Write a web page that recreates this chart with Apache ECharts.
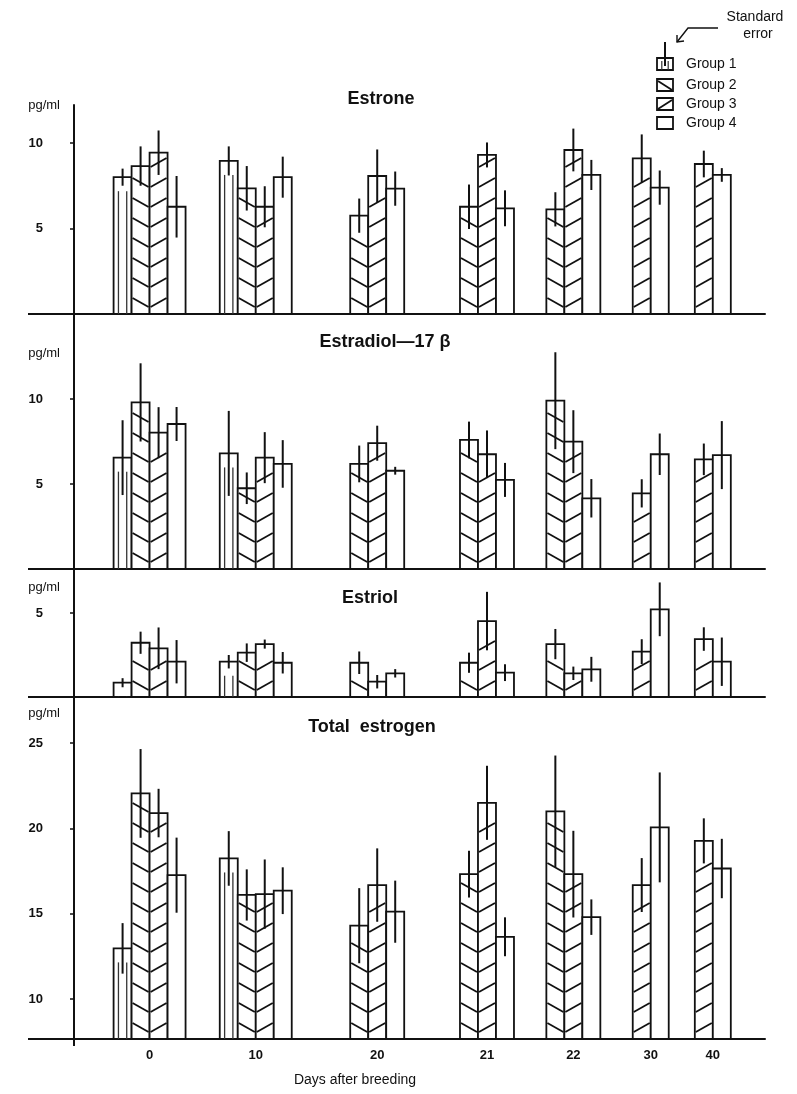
<!DOCTYPE html>
<html>
<head>
<meta charset="utf-8">
<script src="https://cdn.jsdelivr.net/npm/echarts@6/dist/echarts.min.js"></script>
<style>
  html, body { margin: 0; padding: 0; background: #fff; }
  #chart { width: 797px; height: 1094px; }
</style>
</head>
<body>
<div id="chart"></div>
<script>
// Sampling days and where each day's cluster sits on the x axis (in bar widths)
const days = ['0', '10', '20', '21', '22', '30', '40'];
const dayPos = [4.2, 10.1, 16.85, 22.95, 27.75, 32.05, 35.5];
const groups = ['Group 1', 'Group 2', 'Group 3', 'Group 4'];

// Mean concentrations (pg/ml): one row per group, one entry per day; null = not sampled
const estroneMean = [
  [8.0, 8.95, null, null, null, null, null],
  [8.65, 7.35, 5.75, 6.27, 6.12, null, null],
  [9.43, 6.27, 8.07, 9.3, 9.59, 9.1, 8.77],
  [6.27, 8.0, 7.33, 6.18, 8.13, 7.39, 8.13]
];
const estroneSE = [
  [0.5, 0.85, null, null, null, null, null],
  [1.15, 1.3, 1.0, 1.3, 1.0, null, null],
  [1.3, 1.2, 1.55, 0.73, 1.25, 1.4, 0.78],
  [1.8, 1.2, 1.0, 1.05, 0.88, 1.0, 0.4]
];

const estradiolMean = [
  [6.55, 6.8, null, null, null, null, null],
  [9.8, 4.75, 6.18, 7.59, 9.9, null, null],
  [8.02, 6.55, 7.4, 6.75, 7.49, 4.45, 6.45],
  [8.53, 6.18, 5.78, 5.24, 4.16, 6.75, 6.7]
];
const estradiolSE = [
  [2.2, 2.5, null, null, null, null, null],
  [2.3, 0.93, 1.08, 1.08, 2.85, null, null],
  [1.5, 1.5, 1.03, 1.4, 1.85, 0.83, 0.93],
  [1.0, 1.4, 0.23, 1.0, 1.13, 1.22, 2.0]
];

const estriolMean = [
  [0.85, 2.1, null, null, null, null, null],
  [3.23, 2.64, 2.04, 2.04, 3.15, null, null],
  [2.9, 3.15, 0.91, 4.52, 1.41, 2.7, 3.45],
  [2.1, 2.04, 1.41, 1.45, 1.65, 5.22, 2.1]
];
const estriolSE = [
  [0.27, 0.4, null, null, null, null, null],
  [0.66, 0.55, 0.67, 0.6, 0.9, null, null],
  [1.24, 0.27, 0.4, 1.74, 0.4, 0.74, 0.7],
  [1.29, 0.64, 0.25, 0.5, 0.74, 1.6, 1.44]
];

const totalMean = [
  [12.97, 18.24, null, null, null, null, null],
  [22.05, 16.1, 14.3, 17.32, 21.0, null, null],
  [20.9, 16.15, 16.68, 21.5, 17.32, 16.68, 19.27],
  [17.26, 16.35, 15.12, 13.65, 14.8, 20.06, 17.65]
];
const totalSE = [
  [1.48, 1.6, null, null, null, null, null],
  [2.6, 1.5, 2.2, 1.37, 3.27, null, null],
  [1.42, 2.03, 2.15, 2.17, 2.54, 1.58, 1.32],
  [2.2, 1.37, 1.82, 1.14, 1.04, 3.22, 1.74]
];

// Y tick labels per panel
const estroneTicks = [5, 10];
const estradiolTicks = [5, 10];
const estriolTicks = [5];
const totalTicks = [10, 15, 20, 25];

const panels = [
  { title: 'Estrone', mean: estroneMean, se: estroneSE, ticks: estroneTicks,
    top: 105, bottom: 314, min: 0, max: 12.22, titleX: 381, titleY: 99, unitY: 105 },
  { title: 'Estradiol\u201417 \u03b2', mean: estradiolMean, se: estradiolSE, ticks: estradiolTicks,
    top: 314, bottom: 569, min: 0, max: 15.0, titleX: 385, titleY: 342, unitY: 353 },
  { title: 'Estriol', mean: estriolMean, se: estriolSE, ticks: estriolTicks,
    top: 569, bottom: 697, min: 0, max: 7.62, titleX: 370, titleY: 598, unitY: 587 },
  { title: 'Total  estrogen', mean: totalMean, se: totalSE, ticks: totalTicks,
    top: 697, bottom: 1039, min: 7.66, max: 27.7, titleX: 372, titleY: 727, unitY: 713 }
];

const PLOT_LEFT = 74, PLOT_RIGHT = 765;
const X_MAX = 38.4;
const INK = '#111';
const FONT = '"Liberation Sans", Arial, sans-serif';

// Draw one bar: outline, group fill pattern, and the standard-error line
function makeRenderer(baseValue) {
  return function (params, api) {
    const x = api.value(0), v = api.value(1), se = api.value(2), g = api.value(3);
    const pL = api.coord([x - 0.5, v]);
    const pR = api.coord([x + 0.5, v]);
    const left = pL[0], right = pR[0], top = pL[1];
    const base = api.coord([x, baseValue])[1];
    const w = right - left;
    const children = [{
      type: 'rect',
      shape: { x: left, y: top, width: w, height: base - top },
      style: { fill: '#fff', stroke: INK, lineWidth: 1.8 }
    }];
    const drop = 9;
    if (g === 1 || g === 2) {
      for (let yk = base - 7; yk - drop > top + 3; yk -= 20) {
        const shape = g === 1
          ? { x1: left + 1, y1: yk - drop, x2: right - 1, y2: yk }
          : { x1: left + 1, y1: yk, x2: right - 1, y2: yk - drop };
        children.push({ type: 'line', shape, style: { stroke: INK, lineWidth: 1.8 } });
      }
    } else if (g === 0) {
      [0.27, 0.73].forEach(f => {
        const xi = left + f * w;
        children.push({
          type: 'line',
          shape: { x1: xi, y1: Math.min(base, top + 14), x2: xi, y2: base },
          style: { stroke: '#333', lineWidth: 1.3 }
        });
      });
    }
    const cx = (left + right) / 2;
    children.push({
      type: 'line',
      shape: { x1: cx, y1: api.coord([x, v + se])[1], x2: cx, y2: api.coord([x, Math.max(baseValue, v - se)])[1] },
      style: { stroke: INK, lineWidth: 2 }
    });
    return { type: 'group', children };
  };
}

const grid = [], xAxis = [], yAxis = [], series = [];
panels.forEach((p, pi) => {
  grid.push({ left: PLOT_LEFT, width: PLOT_RIGHT - PLOT_LEFT, top: p.top, height: p.bottom - p.top });
  const isBottom = pi === panels.length - 1;
  xAxis.push({
    type: 'value', gridIndex: pi, min: 0, max: X_MAX,
    splitLine: { show: false },
    axisLine: { show: true, onZero: false, lineStyle: { color: INK, width: 2 } },
    axisTick: { show: false },
    axisLabel: isBottom ? {
      show: true, customValues: dayPos, margin: 10,
      color: INK, fontSize: 13, fontWeight: 'bold', fontFamily: FONT,
      formatter: val => {
        let best = 0;
        dayPos.forEach((d, i) => { if (Math.abs(d - val) < Math.abs(dayPos[best] - val)) best = i; });
        return days[best];
      }
    } : { show: false }
  });
  yAxis.push({
    type: 'value', gridIndex: pi, min: p.min, max: p.max,
    splitLine: { show: false },
    axisLine: { show: true, lineStyle: { color: INK, width: 2 } },
    axisTick: { show: true, customValues: p.ticks, length: 4, lineStyle: { color: INK, width: 1.5 } },
    axisLabel: {
      show: true, customValues: p.ticks, margin: 31,
      color: INK, fontSize: 13, fontWeight: 'bold', fontFamily: FONT
    }
  });
  for (let g = 0; g < 4; g++) {
    const data = [];
    days.forEach((d, di) => {
      const v = p.mean[g][di];
      if (v == null) return;
      const present = [0, 1, 2, 3].filter(k => p.mean[k][di] != null);
      const idx = present.indexOf(g);
      const offset = idx - (present.length - 1) / 2;
      data.push([dayPos[di] + offset, v, p.se[g][di], g]);
    });
    series.push({
      type: 'custom', name: groups[g], xAxisIndex: pi, yAxisIndex: pi,
      renderItem: makeRenderer(p.min), data, clip: false, silent: true
    });
  }
});

// Titles, units, baseline stubs, axis label and legend
const graphic = [];
panels.forEach(p => {
  graphic.push({
    type: 'text', x: p.titleX, y: p.titleY,
    style: { text: p.title, font: 'bold 18px ' + FONT, fill: INK, textAlign: 'center', textVerticalAlign: 'middle' }
  });
  graphic.push({
    type: 'text', x: 60, y: p.unitY,
    style: { text: 'pg/ml', font: '13px ' + FONT, fill: INK, textAlign: 'right', textVerticalAlign: 'middle' }
  });
  graphic.push({
    type: 'line', shape: { x1: 28, y1: p.bottom, x2: PLOT_LEFT, y2: p.bottom },
    style: { stroke: INK, lineWidth: 2 }
  });
});
graphic.push({ type: 'line', shape: { x1: PLOT_LEFT, y1: 1039, x2: PLOT_LEFT, y2: 1046 }, style: { stroke: INK, lineWidth: 2 } });
graphic.push({
  type: 'text', x: 355, y: 1080,
  style: { text: 'Days after breeding', font: '14px ' + FONT, fill: INK, textAlign: 'center', textVerticalAlign: 'middle' }
});

// Legend
const legendBoxX = 657, legendBoxW = 16, legendBoxH = 12;
const legendY = [64, 85, 104, 123];
groups.forEach((name, g) => {
  const cy = legendY[g];
  const x0 = legendBoxX, y0 = cy - legendBoxH / 2;
  graphic.push({
    type: 'rect', shape: { x: x0, y: y0, width: legendBoxW, height: legendBoxH },
    style: { fill: '#fff', stroke: INK, lineWidth: 1.8 }
  });
  if (g === 1) {
    graphic.push({ type: 'line', shape: { x1: x0 + 1, y1: y0 + 2, x2: x0 + legendBoxW - 1, y2: y0 + legendBoxH - 1 }, style: { stroke: INK, lineWidth: 1.8 } });
  } else if (g === 2) {
    graphic.push({ type: 'line', shape: { x1: x0 + 1, y1: y0 + legendBoxH - 1, x2: x0 + legendBoxW - 1, y2: y0 + 2 }, style: { stroke: INK, lineWidth: 1.8 } });
  } else if (g === 0) {
    [0.3, 0.7].forEach(f => graphic.push({
      type: 'line', shape: { x1: x0 + f * legendBoxW, y1: y0 + 3, x2: x0 + f * legendBoxW, y2: y0 + legendBoxH },
      style: { stroke: '#333', lineWidth: 1.2 }
    }));
    graphic.push({ type: 'line', shape: { x1: x0 + legendBoxW / 2, y1: 42, x2: x0 + legendBoxW / 2, y2: y0 + 8 }, style: { stroke: INK, lineWidth: 2 } });
  }
  graphic.push({
    type: 'text', x: 686, y: cy,
    style: { text: name, font: '14px ' + FONT, fill: INK, textAlign: 'left', textVerticalAlign: 'middle' }
  });
});
graphic.push({
  type: 'text', x: 755, y: 17,
  style: { text: 'Standard', font: '14px ' + FONT, fill: INK, textAlign: 'center', textVerticalAlign: 'middle' }
});
graphic.push({
  type: 'text', x: 758, y: 34,
  style: { text: 'error', font: '14px ' + FONT, fill: INK, textAlign: 'center', textVerticalAlign: 'middle' }
});
graphic.push({
  type: 'polyline', shape: { points: [[718, 28], [688, 28], [677, 42]] },
  style: { stroke: INK, lineWidth: 1.4, fill: null }
});
graphic.push({
  type: 'polyline', shape: { points: [[677, 35], [677, 42], [684, 41]] },
  style: { stroke: INK, lineWidth: 1.4, fill: null }
});

const chart = echarts.init(document.getElementById('chart'), null, { renderer: 'canvas' });
chart.setOption({
  animation: false,
  backgroundColor: '#fff',
  grid, xAxis, yAxis, series, graphic
});
</script>
</body>
</html>
